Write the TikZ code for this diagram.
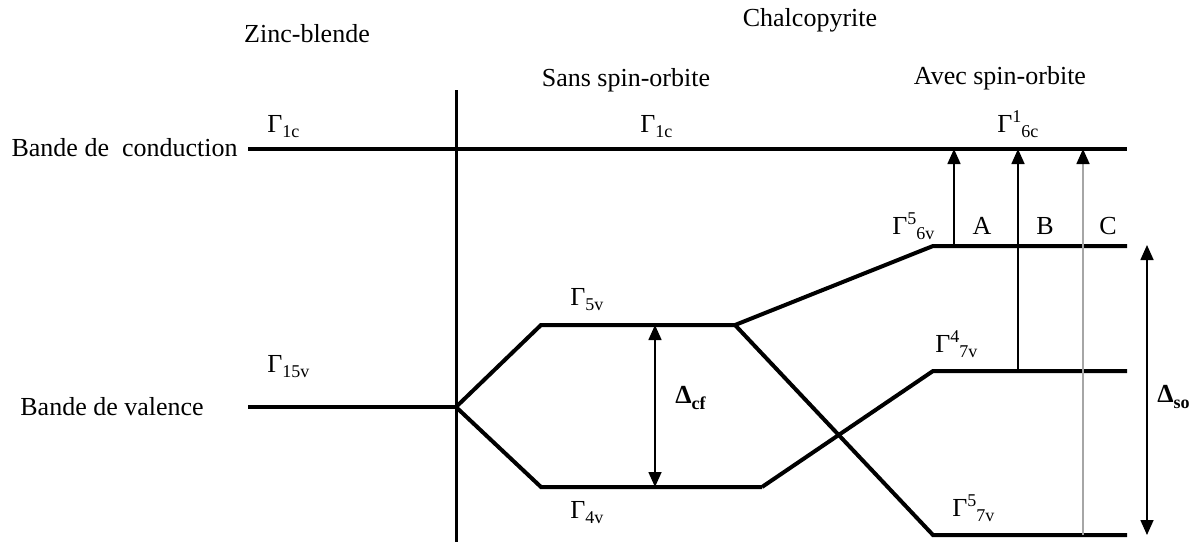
\documentclass[tikz,border=0pt]{standalone}
\usepackage{fontspec}
\setmainfont{Liberation Serif}
\usetikzlibrary{arrows.meta}
\newcommand\smallfs{\fontsize{9}{10}\selectfont}
\newcommand\Gsub[1]{Γ\raisebox{-0.45ex}{\smallfs #1}}
\newcommand\Gsupsub[2]{Γ\raisebox{0.78ex}{\smallfs #1}\raisebox{-0.45ex}{\smallfs #2}}
\newcommand\Dsub[1]{\textbf{Δ\raisebox{-0.45ex}{\smallfs #1}}}
\begin{document}
\begin{tikzpicture}[x=0.5pt,y=-0.5pt,
  level/.style={line width=2pt},
  axisline/.style={line width=1.5pt},
  trans/.style={line width=0.8pt,-{Triangle[length=7.5pt,width=6.5pt]}},
  grtrans/.style={line width=0.8pt,draw=black!35,-{Triangle[length=7.5pt,width=6.5pt,color=black,fill=black]}},
  dbl/.style={line width=0.8pt,{Triangle[length=7.5pt,width=6.5pt]}-{Triangle[length=7.5pt,width=6.5pt]}},
  txt/.style={inner sep=0pt,font=\fontsize{13}{15}\selectfont},
  gam/.style={inner sep=0pt,font=\fontsize{13}{15}\selectfont,anchor=base west}]
\useasboundingbox (0,0) rectangle (1195,542);
% coordinates
\coordinate (cbL) at (248,149);
\coordinate (cbR) at (1127,149);
\coordinate (axT) at (456,90);
\coordinate (axB) at (456,542);
\coordinate (vbL) at (248,407);
\coordinate (vbR) at (456,407);
\coordinate (g5L) at (541,325);
\coordinate (g5R) at (735,325);
\coordinate (g4L) at (541,487);
\coordinate (g4R) at (762,487);
\coordinate (a6L) at (933,246);
\coordinate (a6R) at (1127,246);
\coordinate (b7L) at (933,371);
\coordinate (b7R) at (1127,371);
\coordinate (c7L) at (933,535);
\coordinate (c7R) at (1127,535);
\coordinate (Abot) at (954,246);
\coordinate (Atop) at (954,149);
\coordinate (Bbot) at (1018,371);
\coordinate (Btop) at (1018,149);
\coordinate (Cbot) at (1083,535);
\coordinate (Ctop) at (1083,149);
\coordinate (cfT) at (655,325);
\coordinate (cfB) at (655,487);
\coordinate (soT) at (1147,245);
\coordinate (soB) at (1147,535);
% levels
\draw[level] (cbL) -- (cbR);
\draw[axisline] (axT) -- (axB);
\draw[level] (vbL) -- (vbR);
\draw[level] (vbR) -- (g5L) -- (g5R);
\draw[level] (vbR) -- (g4L) -- (g4R);
\draw[level] (g5R) -- (a6L) -- (a6R);
\draw[level] (g4R) -- (b7L) -- (b7R);
\draw[level] (g5R) -- (c7L) -- (c7R);
% transitions
\draw[trans] (Abot) -- (Atop);
\draw[trans] (Bbot) -- (Btop);
\draw[grtrans] (Cbot) -- (Ctop);
\draw[dbl] (cfT) -- (cfB);
\draw[dbl] (soT) -- (soB);
% texts
\node[txt] (zb) at (307,34) {Zinc-blende};
\node[txt] (ch) at (810,20) {Chalcopyrite};
\node[txt] (ss) at (626,80) {Sans spin-orbite};
\node[txt] (as) at (1000,78) {Avec spin-orbite};
\node[txt,anchor=east] (bc) at (238,148) {Bande de~~conduction};
\node[txt,anchor=west] (bv) at (20,407) {Bande de valence};
\node[gam] (g1a) at (267,132) {\Gsub{1c}};
\node[gam] (g1b) at (640,132) {\Gsub{1c}};
\node[gam] (g16c) at (997,132) {\Gsupsub{1}{6c}};
\node[gam] (g56v) at (892,234) {\Gsupsub{5}{6v}};
\node[gam] (g15v) at (267,372) {\Gsub{15v}};
\node[gam] (g5v) at (570,305) {\Gsub{5v}};
\node[gam] (g4v) at (570,518) {\Gsub{4v}};
\node[gam] (g47v) at (935,352) {\Gsupsub{4}{7v}};
\node[gam] (g57v) at (952,516) {\Gsupsub{5}{7v}};
\node[txt] (lA) at (982,226) {A};
\node[txt] (lB) at (1045,226) {B};
\node[txt] (lC) at (1108,226) {C};
\node[txt,anchor=west] (dcf) at (675,398) {\Dsub{cf}};
\node[txt,anchor=west] (dso) at (1157,397) {\Dsub{so}};
\end{tikzpicture}
\end{document}
